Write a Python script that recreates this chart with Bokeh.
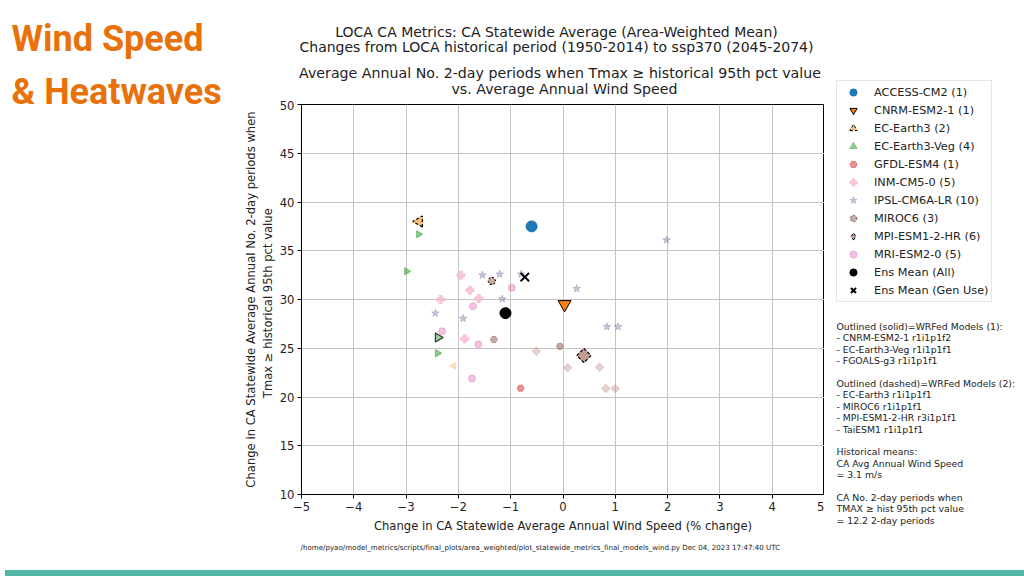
import math
from bokeh.plotting import figure
from bokeh.layouts import row, column
from bokeh.models import (Label, Legend, LegendItem, FixedTicker, ColumnDataSource, Range1d, Div)
from bokeh.embed import file_html
from bokeh.resources import INLINE

# ---------------- data ----------------
ACCESS_x = [-0.60]; ACCESS_y = [37.5]
CNRM_x = [0.03]; CNRM_y = [29.5]
EC3_x = [-2.75, -2.09]; EC3_y = [38.0, 23.2]
ECV_x = [-2.76, -2.99, -2.39, -2.40]; ECV_y = [36.7, 32.9, 26.1, 24.5]
GFDL_x = [-0.81]; GFDL_y = [20.9]
INM_x = [-1.95, -1.78, -2.34, -1.61, -1.88]; INM_y = [32.5, 30.95, 30.0, 30.1, 25.96]
IPSL_x = [-1.54, -1.21, -0.80, -1.16, -2.44, -1.91, 1.98, 0.26, 0.84, 1.05]
IPSL_y = [32.5, 32.6, 32.6, 30.06, 28.6, 28.05, 36.1, 31.1, 27.2, 27.2]
MIROC_x = [-1.36, -1.32, -0.06]; MIROC_y = [31.9, 25.9, 25.2]
MPI_x = [0.40, -0.51, 0.09, 0.70, 0.82, 1.00]; MPI_y = [24.25, 24.7, 23.0, 23.06, 20.87, 20.87]
MRI_x = [-0.98, -1.72, -2.31, -1.62, -1.74]; MRI_y = [31.2, 29.3, 26.75, 25.4, 21.9]
ENS_ALL_x = [-1.10]; ENS_ALL_y = [28.6]
ENS_GEN_x = [-0.73]; ENS_GEN_y = [32.3]

x_ticks = [-5, -4, -3, -2, -1, 0, 1, 2, 3, 4, 5]
y_ticks = [10, 15, 20, 25, 30, 35, 40, 45, 50]

legend_labels = ["ACCESS-CM2 (1)", "CNRM-ESM2-1 (1)", "EC-Earth3 (2)", "EC-Earth3-Veg (4)",
                 "GFDL-ESM4 (1)", "INM-CM5-0 (5)", "IPSL-CM6A-LR (10)", "MIROC6 (3)",
                 "MPI-ESM1-2-HR (6)", "MRI-ESM2-0 (5)", "Ens Mean (All)", "Ens Mean (Gen Use)"]
legend_data = [(ACCESS_x, ACCESS_y), (CNRM_x, CNRM_y), (EC3_x, EC3_y), (ECV_x, ECV_y),
               (GFDL_x, GFDL_y), (INM_x, INM_y), (IPSL_x, IPSL_y), (MIROC_x, MIROC_y),
               (MPI_x, MPI_y), (MRI_x, MRI_y), (ENS_ALL_x, ENS_ALL_y), (ENS_GEN_x, ENS_GEN_y)]

notes = ["Outlined (solid)=WRFed Models (1):", "- CNRM-ESM2-1 r1i1p1f2",
         "- EC-Earth3-Veg r1i1p1f1", "- FGOALS-g3 r1i1p1f1", "",
         "Outlined (dashed)=WRFed Models (2):", "- EC-Earth3 r1i1p1f1",
         "- MIROC6 r1i1p1f1", "- MPI-ESM1-2-HR r3i1p1f1", "- TaiESM1 r1i1p1f1", "",
         "Historical means:", "CA Avg Annual Wind Speed", "= 3.1 m/s", "",
         "CA No. 2-day periods when", "TMAX  \u2265 hist 95th pct value", "= 12.2 2-day periods"]

# ---------------- styles ----------------
C_ACCESS, C_CNRM, C_EC3, C_ECV = "#1f77b4", "#ff7f0e", "#ffbb78", "#2ca02c"
C_GFDL, C_INM, C_IPSL, C_MIROC = "#d62728", "#f7b6d2", "#8c82b0", "#8c564b"
C_MPI, C_MRI = "#c49c94", "#e377c2"
A_ECV, A_GFDL, A_INM, A_IPSL, A_MIROC, A_MPI, A_MRI = 0.5, 0.5, 0.75, 0.45, 0.5, 0.45, 0.45
TEXT = "#222222"

W0 = 238          # width of left heading panel
WM = 830 - W0     # width of middle column
H_TOP, H_MAIN, H_FOOT = 100, 440, 25
H_ALL = H_TOP + H_MAIN + H_FOOT


def blank_fig(w, h):
    f = figure(width=w, height=h, output_backend="svg", toolbar_location=None,
               x_range=Range1d(1000, 1001), y_range=Range1d(1000, 1001),
               x_axis_location=None, y_axis_location=None,
               min_border_left=0, min_border_right=0, min_border_top=0, min_border_bottom=0)
    f.frame_align = False
    f.grid.visible = False
    f.outline_line_color = None
    f.background_fill_color = "white"
    f.border_fill_color = "white"
    return f


def lab(f, ox, oy, h, text, px, py, size, align="left", baseline="middle", color=TEXT,
        font="DejaVu Sans", style="normal"):
    f.add_layout(Label(x=px - ox, y=(oy + h) - py, x_units="screen", y_units="screen",
                       text=text, text_font_size=size, text_align=align, text_baseline=baseline,
                       text_color=color, text_font=font, text_font_style=style))


# ---------------- left heading ----------------
F0 = blank_fig(W0, H_ALL)
lab(F0, 0, 0, H_ALL, "Wind Speed", 11, 38, "36px", color="#e8710a", font="Roboto", style="bold")
lab(F0, 0, 0, H_ALL, "& Heatwaves", 11, 91, "36px", color="#e8710a", font="Roboto", style="bold")

# ---------------- titles ----------------
FT = blank_fig(WM, H_TOP)
lab(FT, W0, 0, H_TOP, "LOCA CA Metrics: CA Statewide Average (Area-Weighted Mean)", 556, 31, "14px",
    align="center")
lab(FT, W0, 0, H_TOP, "Changes from LOCA historical period (1950-2014) to ssp370 (2045-2074)",
    556, 46, "14px", align="center")
lab(FT, W0, 0, H_TOP, "Average Annual No. 2-day periods when Tmax  \u2265  historical 95th pct value",
    564, 72, "14.2px", align="center")
lab(FT, W0, 0, H_TOP, "vs. Average Annual Wind Speed", 564, 88, "14.2px", align="center")

# ---------------- main chart ----------------
p = figure(frame_width=523, frame_height=390, output_backend="svg", toolbar_location=None,
           x_range=Range1d(-5, 5), y_range=Range1d(10, 50),
           min_border_left=301 - W0, min_border_right=0, min_border_top=4, min_border_bottom=46,
           background_fill_color="white", border_fill_color="white")
p.outline_line_color = "black"
p.outline_line_width = 1
p.outline_line_alpha = 1
p.xaxis.ticker = FixedTicker(ticks=x_ticks)
p.yaxis.ticker = FixedTicker(ticks=y_ticks)
p.xaxis.major_label_overrides = {t: str(t).replace("-", "\u2212") for t in x_ticks}
for ax in (p.xaxis[0], p.yaxis[0]):
    ax.axis_line_color = "black"
    ax.major_tick_line_color = "black"
    ax.major_tick_out = 4
    ax.major_tick_in = 0
    ax.minor_tick_line_color = None
    ax.major_label_text_font = "DejaVu Sans"
    ax.major_label_text_font_size = "11.6px"
    ax.major_label_text_color = TEXT
    ax.axis_label_text_font = "DejaVu Sans"
    ax.axis_label_text_font_size = "11.6px"
    ax.axis_label_text_font_style = "normal"
    ax.axis_label_text_color = TEXT
    ax.major_label_standoff = 3
p.xaxis.axis_label = "Change in CA Statewide Average Annual Wind Speed (% change)"
p.yaxis.axis_label = ("Change in CA Statewide Average Annual No. 2-day periods when\n"
                      "Tmax  \u2265  historical 95th pct value")
p.xaxis.axis_label_standoff = 5
p.yaxis.axis_label_standoff = 2
p.grid.grid_line_color = "#c4c4c4"
p.grid.grid_line_width = 1


def src(xs, ys, sizes, alphas, lcs, las):
    return ColumnDataSource(dict(x=xs, y=ys, size=sizes, alpha=alphas, lc=lcs, la=las))


def faded(xs, ys, color, size, alpha):
    n = len(xs)
    return src(xs, ys, [size] * n, [alpha] * n, [color] * n, [alpha] * n)


def vscatter(source, marker, color, angle=0.0, lw=1.0):
    return p.scatter("x", "y", source=source, marker=marker, angle=angle, size="size",
                     fill_color=color, fill_alpha="alpha", line_color="lc", line_alpha="la",
                     line_width=lw)


vscatter(faded(IPSL_x, IPSL_y, C_IPSL, 8, A_IPSL), "star", C_IPSL)
vscatter(faded(INM_x, INM_y, C_INM, 8, A_INM), "plus", C_INM)
vscatter(faded(MRI_x, MRI_y, C_MRI, 7, A_MRI), "circle", C_MRI)
vscatter(faded(GFDL_x, GFDL_y, C_GFDL, 7, A_GFDL), "hex", C_GFDL)
vscatter(faded(MIROC_x, MIROC_y, C_MIROC, 7, A_MIROC), "hex", C_MIROC)
p.scatter(MIROC_x[:1], MIROC_y[:1], marker="hex", size=8, fill_color=None,
          line_color="black", line_width=1, line_dash="2 2")
vscatter(src(MPI_x, MPI_y, [10, 6, 6, 6, 6, 6], [1.0] + [A_MPI] * 5, [C_MPI] * 6,
             [1.0] + [A_MPI] * 5), "square", C_MPI, angle=math.pi / 4)
p.scatter(MPI_x[:1], MPI_y[:1], marker="square", angle=math.pi / 4, size=10, fill_color=None,
          line_color="black", line_width=1.2, line_dash="3 2")
vscatter(src(ECV_x, ECV_y, [7, 7, 9, 7], [A_ECV] * 4, [C_ECV, C_ECV, "#333333", C_ECV],
             [A_ECV, A_ECV, 1.0, A_ECV]), "triangle", C_ECV, angle=-math.pi / 2, lw=1.2)
vscatter(src(EC3_x, EC3_y, [11, 7], [1.0, 0.45], [C_EC3, C_EC3], [1.0, 0.45]),
         "triangle", C_EC3, angle=math.pi / 2)
p.scatter(EC3_x[:1], EC3_y[:1], marker="triangle", angle=math.pi / 2, size=11,
          fill_color=None, line_color="black", line_width=1.2, line_dash="3 2")
p.scatter(ACCESS_x, ACCESS_y, marker="circle", size=11, fill_color=C_ACCESS, line_color=C_ACCESS)
p.scatter(CNRM_x, CNRM_y, marker="inverted_triangle", size=13, fill_color=C_CNRM,
          line_color="black", line_width=1)
p.scatter(ENS_ALL_x, ENS_ALL_y, marker="circle", size=11, fill_color="black", line_color="black")
p.scatter(ENS_GEN_x, ENS_GEN_y, marker="x", size=12, line_color="black", line_width=2)

# ---------------- footnote ----------------
FF = blank_fig(WM, H_FOOT)
lab(FF, W0, H_TOP + H_MAIN, H_FOOT,
    "/home/pyao/model_metrics/scripts/final_plots/area_weighted/plot_statewide_metrics_final_models_wind.py"
    "   Dec 04, 2023 17:47:40 UTC", 300, 547, "7.1px")

# ---------------- legend + notes ----------------
F2 = blank_fig(1024 - 830, H_ALL)
key_styles = [
    dict(marker="circle", fill_color=C_ACCESS, line_color=C_ACCESS),
    dict(marker="inverted_triangle", fill_color=C_CNRM, line_color="black"),
    dict(marker="triangle", angle=math.pi / 2, fill_color=C_EC3, line_color="black", line_dash="3 2"),
    dict(marker="triangle", angle=-math.pi / 2, fill_color=C_ECV, fill_alpha=A_ECV, line_color=C_ECV,
         line_alpha=A_ECV),
    dict(marker="hex", fill_color=C_GFDL, fill_alpha=A_GFDL, line_color=C_GFDL, line_alpha=A_GFDL),
    dict(marker="plus", fill_color=C_INM, fill_alpha=A_INM, line_color=C_INM, line_alpha=A_INM),
    dict(marker="star", fill_color=C_IPSL, fill_alpha=A_IPSL, line_color=C_IPSL, line_alpha=A_IPSL),
    dict(marker="hex", fill_color=C_MIROC, fill_alpha=A_MIROC, line_color="black", line_alpha=0.5,
         line_dash="2 2"),
    dict(marker="diamond", fill_color=C_MPI, line_color="black", line_dash="3 2"),
    dict(marker="circle", fill_color=C_MRI, fill_alpha=A_MRI, line_color=C_MRI, line_alpha=A_MRI),
    dict(marker="circle", fill_color="black", line_color="black"),
    dict(marker="x", line_color="black", line_width=2),
]
items = []
for lbl, st, (xs, ys) in zip(legend_labels, key_styles, legend_data):
    # proxy renderer: real data, but F2's ranges keep it out of view; only its key is drawn
    r = F2.scatter(x=xs, y=ys, **st)
    items.append(LegendItem(label=lbl, renderers=[r]))
legend = Legend(items=items, location=(6, H_ALL - 302),
                label_text_font="DejaVu Sans", label_text_font_size="11.3px",
                label_text_color=TEXT, glyph_width=28, glyph_height=18, label_height=18,
                spacing=0, padding=2, margin=0, label_standoff=7,
                border_line_color="#cccccc", border_line_width=1, background_fill_alpha=1)
F2.add_layout(legend)
for i, t in enumerate(notes):
    if t:
        lab(F2, 830, 0, H_ALL, t, 836, 326 + 11.4 * i, "9.3px")

teal = Div(text="", width=1024, height=576 - H_ALL, styles={"background-color": "#52b6a9"})

layout = column(row(F0, column(FT, p, FF, spacing=0), F2, spacing=0), teal, spacing=0)

open("out.html", "w").write(file_html(layout, INLINE))
